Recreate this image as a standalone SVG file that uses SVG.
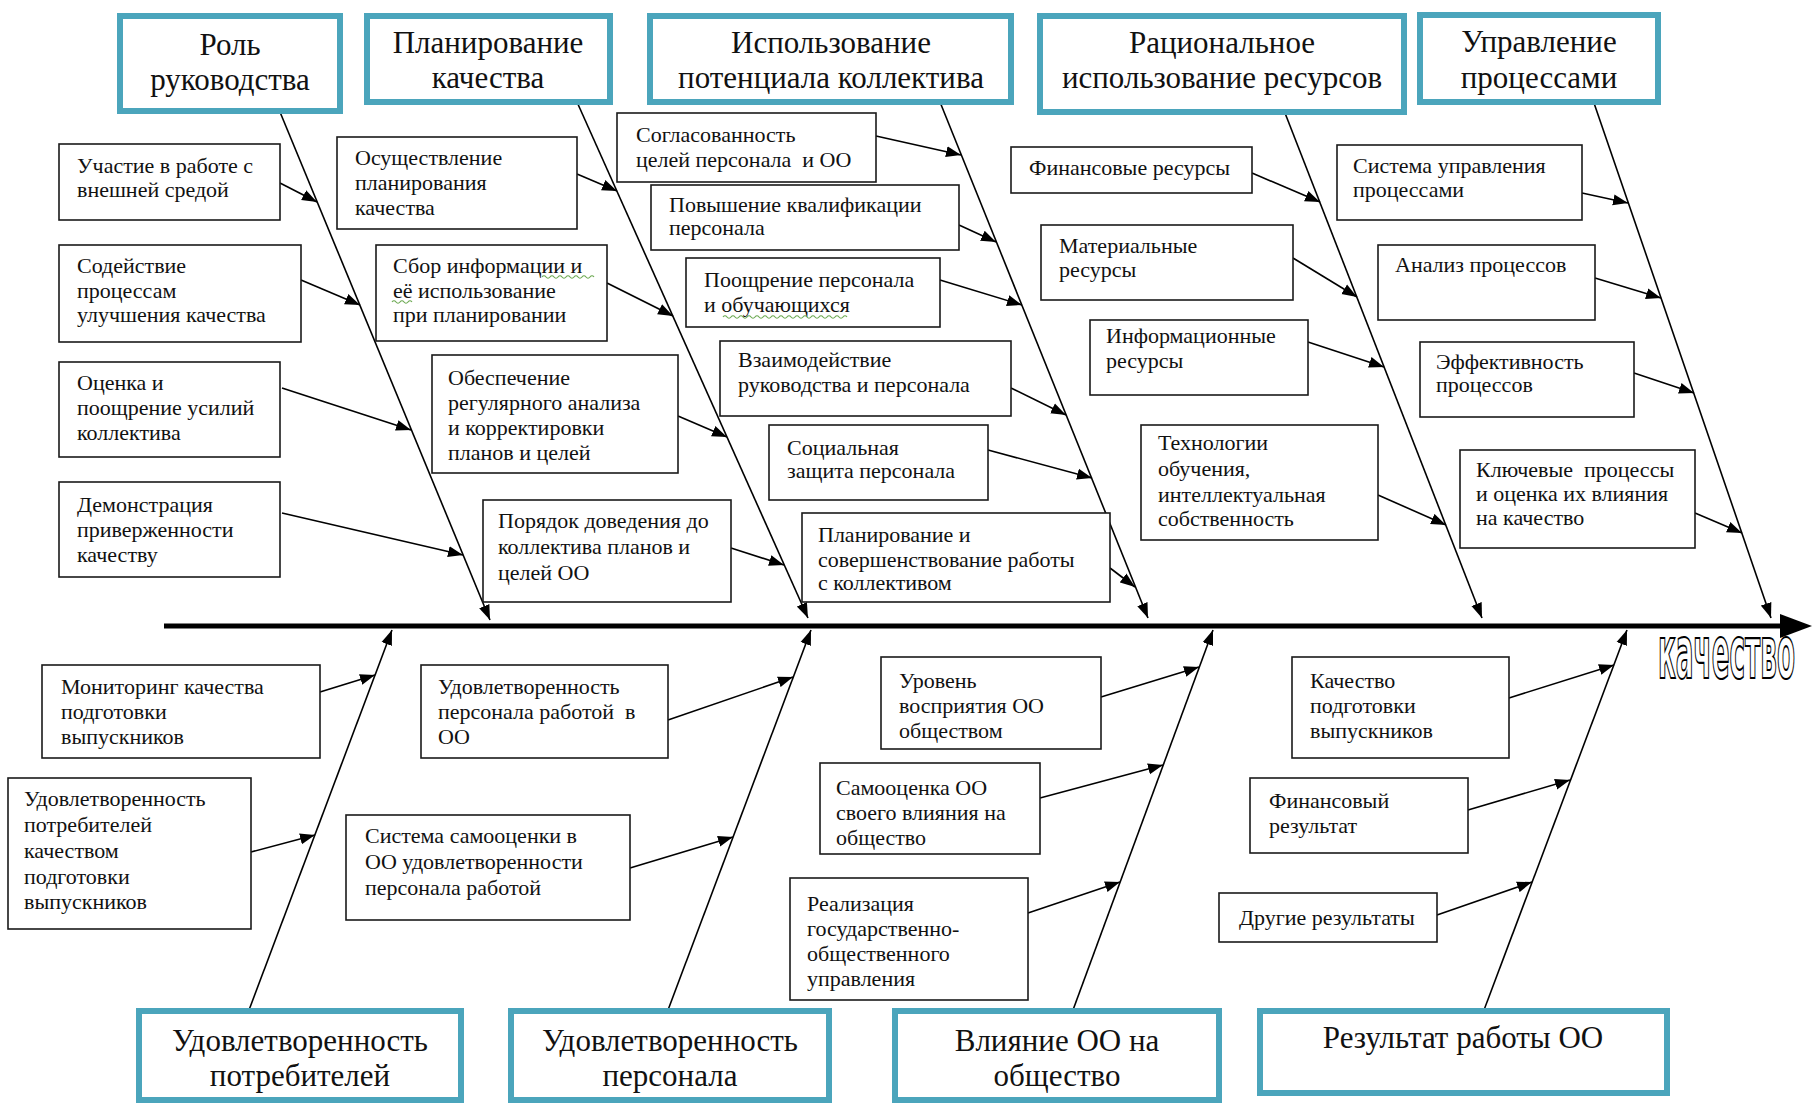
<svg xmlns="http://www.w3.org/2000/svg" width="1814" height="1104" viewBox="0 0 1814 1104">
<defs>
<marker id="ah" markerUnits="userSpaceOnUse" markerWidth="16" markerHeight="12" refX="15" refY="6" orient="auto">
<path d="M0,0.5 L15,6 L0,11.5 z" fill="#000"/>
</marker>
<style>
.hb{fill:#fff;stroke:#4ba5bc;stroke-width:6}
.sb{fill:#fff;stroke:#1a1a1a;stroke-width:1.6}
.ht{font-family:"Liberation Serif","Times New Roman",serif;font-size:31px;text-anchor:middle;fill:#111}
.st{font-family:"Liberation Serif","Times New Roman",serif;font-size:22px;fill:#111}
.ln{stroke:#000;stroke-width:1.6;fill:none;marker-end:url(#ah)}
.sq{stroke:#6aa84f;stroke-width:1.2;fill:none}
</style>
</defs>
<rect width="1814" height="1104" fill="#fff"/>

<g id="connectors">
<line x1="164" y1="626" x2="1785" y2="626" stroke="#000" stroke-width="5"/>
<polygon points="1812,626 1780,614 1780,638" fill="#000"/>
<path class="ln" d="M280,112 L490,620"/>
<path class="ln" d="M577,102 L808,618"/>
<path class="ln" d="M940,102 L1148,618"/>
<path class="ln" d="M1285,113 L1482,618"/>
<path class="ln" d="M1594,103 L1771,618"/>
<path class="ln" d="M249,1010 L392,630"/>
<path class="ln" d="M668,1010 L811,630"/>
<path class="ln" d="M1073,1010 L1213,630"/>
<path class="ln" d="M1484,1010 L1627,630"/>
<path class="ln" d="M280,183 L317,202"/>
<path class="ln" d="M301,280 L360,305"/>
<path class="ln" d="M282,388 L411,430"/>
<path class="ln" d="M282,513 L463,555"/>
<path class="ln" d="M577,174 L617,191"/>
<path class="ln" d="M607,283 L673,316"/>
<path class="ln" d="M678,416 L727,437"/>
<path class="ln" d="M731,548 L784,565"/>
<path class="ln" d="M876,136 L961,155"/>
<path class="ln" d="M959,225 L996,242"/>
<path class="ln" d="M940,280 L1022,305"/>
<path class="ln" d="M1011,388 L1066,415"/>
<path class="ln" d="M988,450 L1092,478"/>
<path class="ln" d="M1110,568 L1135,587"/>
<path class="ln" d="M1252,173 L1320,202"/>
<path class="ln" d="M1293,258 L1357,297"/>
<path class="ln" d="M1308,342 L1384,367"/>
<path class="ln" d="M1378,495 L1446,525"/>
<path class="ln" d="M1582,193 L1628,203"/>
<path class="ln" d="M1595,278 L1661,298"/>
<path class="ln" d="M1634,373 L1694,393"/>
<path class="ln" d="M1695,513 L1742,533"/>
<path class="ln" d="M320,692 L375,675"/>
<path class="ln" d="M251,852 L315,835"/>
<path class="ln" d="M668,720 L793,677"/>
<path class="ln" d="M630,868 L733,837"/>
<path class="ln" d="M1101,697 L1199,667"/>
<path class="ln" d="M1040,798 L1163,765"/>
<path class="ln" d="M1028,913 L1120,882"/>
<path class="ln" d="M1509,698 L1614,665"/>
<path class="ln" d="M1468,810 L1570,780"/>
<path class="ln" d="M1437,915 L1532,882"/>
</g>

<g id="h-rol"><rect class="hb" x="120" y="16" width="220" height="95"/><text class="ht" x="230" y="55">Роль</text><text class="ht" x="230" y="90">руководства</text></g>
<g id="h-plan"><rect class="hb" x="367" y="16" width="243" height="86"/><text class="ht" x="488" y="53">Планирование</text><text class="ht" x="488" y="88">качества</text></g>
<g id="h-isp"><rect class="hb" x="650" y="16" width="361" height="86"/><text class="ht" x="831" y="53">Использование</text><text class="ht" x="831" y="88">потенциала коллектива</text></g>
<g id="h-rac"><rect class="hb" x="1040" y="16" width="364" height="96"/><text class="ht" x="1222" y="53">Рациональное</text><text class="ht" x="1222" y="88">использование ресурсов</text></g>
<g id="h-upr"><rect class="hb" x="1420" y="15" width="238" height="87"/><text class="ht" x="1539" y="52">Управление</text><text class="ht" x="1539" y="88">процессами</text></g>
<g id="h-potr"><rect class="hb" x="139" y="1011" width="322" height="89"/><text class="ht" x="300" y="1051">Удовлетворенность</text><text class="ht" x="300" y="1086">потребителей</text></g>
<g id="h-pers"><rect class="hb" x="511" y="1011" width="318" height="89"/><text class="ht" x="670" y="1051">Удовлетворенность</text><text class="ht" x="670" y="1086">персонала</text></g>
<g id="h-vliy"><rect class="hb" x="895" y="1011" width="324" height="89"/><text class="ht" x="1057" y="1051">Влияние ОО на</text><text class="ht" x="1057" y="1086">общество</text></g>
<g id="h-rez"><rect class="hb" x="1260" y="1011" width="407" height="82"/><text class="ht" x="1463" y="1048">Результат работы ОО</text></g>

<g id="a1"><rect class="sb" x="59" y="144" width="221" height="76"/><text class="st" x="77" y="173">Участие в работе с</text><text class="st" x="77" y="197">внешней средой</text></g>
<g id="a2"><rect class="sb" x="59" y="245" width="242" height="97"/><text class="st" x="77" y="273">Содействие</text><text class="st" x="77" y="298">процессам</text><text class="st" x="77" y="322">улучшения качества</text></g>
<g id="a3"><rect class="sb" x="59" y="362" width="221" height="95"/><text class="st" x="77" y="390">Оценка и</text><text class="st" x="77" y="415">поощрение усилий</text><text class="st" x="77" y="440">коллектива</text></g>
<g id="a4"><rect class="sb" x="59" y="482" width="221" height="95"/><text class="st" x="77" y="512">Демонстрация</text><text class="st" x="77" y="537">приверженности</text><text class="st" x="77" y="562">качеству</text></g>

<g id="b1"><rect class="sb" x="337" y="137" width="240" height="92"/><text class="st" x="355" y="165">Осуществление</text><text class="st" x="355" y="190">планирования</text><text class="st" x="355" y="215">качества</text></g>
<g id="b2"><rect class="sb" x="376" y="245" width="231" height="96"/><text class="st" x="393" y="273">Сбор информации и</text><text class="st" x="393" y="298">её использование</text><text class="st" x="393" y="322">при планировании</text>
<path class="sq" d="M542,277 q2,-2.5 4,0 t4,0 t4,0 t4,0 t4,0 t4,0 t4,0 t4,0 t4,0 t4,0 t4,0 t4,0 t4,0"/>
<path class="sq" d="M392,302 q2,-2.5 4,0 t4,0 t4,0 t4,0 t4,0"/></g>
<g id="b3"><rect class="sb" x="432" y="355" width="246" height="118"/><text class="st" x="448" y="385">Обеспечение</text><text class="st" x="448" y="410">регулярного  анализа</text><text class="st" x="448" y="435">и корректировки</text><text class="st" x="448" y="460">планов и целей</text></g>
<g id="b4"><rect class="sb" x="483" y="500" width="248" height="102"/><text class="st" x="498" y="528">Порядок доведения до</text><text class="st" x="498" y="554">коллектива планов и</text><text class="st" x="498" y="580">целей ОО</text></g>

<g id="c1"><rect class="sb" x="617" y="113" width="259" height="69"/><text class="st" x="636" y="142">Согласованность</text><text class="st" x="636" y="167" xml:space="preserve">целей персонала  и ОО</text></g>
<g id="c2"><rect class="sb" x="651" y="185" width="308" height="65"/><text class="st" x="669" y="212">Повышение квалификации</text><text class="st" x="669" y="235">персонала</text></g>
<g id="c3"><rect class="sb" x="686" y="258" width="254" height="69"/><text class="st" x="704" y="287">Поощрение персонала</text><text class="st" x="704" y="312">и обучающихся</text>
<path class="sq" d="M723,317 q2,-2.5 4,0 t4,0 t4,0 t4,0 t4,0 t4,0 t4,0 t4,0 t4,0 t4,0 t4,0 t4,0 t4,0 t4,0 t4,0 t4,0 t4,0 t4,0 t4,0 t4,0 t4,0 t4,0 t4,0 t4,0 t4,0 t4,0 t4,0 t4,0 t4,0 t4,0 t4,0"/></g>
<g id="c4"><rect class="sb" x="720" y="341" width="291" height="75"/><text class="st" x="738" y="367">Взаимодействие</text><text class="st" x="738" y="392">руководства и персонала</text></g>
<g id="c5"><rect class="sb" x="769" y="425" width="219" height="75"/><text class="st" x="787" y="455">Социальная</text><text class="st" x="787" y="478">защита персонала</text></g>
<g id="c6"><rect class="sb" x="802" y="513" width="308" height="89"/><text class="st" x="818" y="542">Планирование и</text><text class="st" x="818" y="567">совершенствование работы</text><text class="st" x="818" y="590">с коллективом</text></g>

<g id="d1"><rect class="sb" x="1011" y="147" width="241" height="46"/><text class="st" x="1029" y="175">Финансовые ресурсы</text></g>
<g id="d2"><rect class="sb" x="1041" y="225" width="252" height="75"/><text class="st" x="1059" y="253">Материальные</text><text class="st" x="1059" y="277">ресурсы</text></g>
<g id="d3"><rect class="sb" x="1090" y="320" width="218" height="75"/><text class="st" x="1106" y="343">Информационные</text><text class="st" x="1106" y="368">ресурсы</text></g>
<g id="d4"><rect class="sb" x="1141" y="425" width="237" height="115"/><text class="st" x="1158" y="450">Технологии</text><text class="st" x="1158" y="476">обучения,</text><text class="st" x="1158" y="502">интеллектуальная</text><text class="st" x="1158" y="526">собственность</text></g>

<g id="e1"><rect class="sb" x="1337" y="145" width="245" height="75"/><text class="st" x="1353" y="173">Система управления</text><text class="st" x="1353" y="197">процессами</text></g>
<g id="e2"><rect class="sb" x="1378" y="245" width="217" height="75"/><text class="st" x="1395" y="272">Анализ процессов</text></g>
<g id="e3"><rect class="sb" x="1420" y="342" width="214" height="75"/><text class="st" x="1436" y="369">Эффективность</text><text class="st" x="1436" y="392">процессов</text></g>
<g id="e4"><rect class="sb" x="1460" y="450" width="235" height="98"/><text class="st" x="1476" y="477" xml:space="preserve">Ключевые  процессы</text><text class="st" x="1476" y="501">и оценка их влияния</text><text class="st" x="1476" y="525">на качество</text></g>

<g id="f1"><rect class="sb" x="42" y="665" width="278" height="93"/><text class="st" x="61" y="694">Мониторинг качества</text><text class="st" x="61" y="719">подготовки</text><text class="st" x="61" y="744">выпускников</text></g>
<g id="f2"><rect class="sb" x="8" y="778" width="243" height="151"/><text class="st" x="24" y="806">Удовлетворенность</text><text class="st" x="24" y="832">потребителей</text><text class="st" x="24" y="858">качеством</text><text class="st" x="24" y="884">подготовки</text><text class="st" x="24" y="909">выпускников</text></g>
<g id="g1"><rect class="sb" x="421" y="665" width="247" height="93"/><text class="st" x="438" y="694">Удовлетворенность</text><text class="st" x="438" y="719" xml:space="preserve">персонала работой  в</text><text class="st" x="438" y="744">ОО</text></g>
<g id="g2"><rect class="sb" x="346" y="815" width="284" height="105"/><text class="st" x="365" y="843">Система самооценки в</text><text class="st" x="365" y="869">ОО удовлетворенности</text><text class="st" x="365" y="895">персонала работой</text></g>
<g id="h1"><rect class="sb" x="881" y="657" width="220" height="92"/><text class="st" x="899" y="688">Уровень</text><text class="st" x="899" y="713">восприятия ОО</text><text class="st" x="899" y="738">обществом</text></g>
<g id="h2"><rect class="sb" x="820" y="763" width="220" height="91"/><text class="st" x="836" y="795">Самооценка ОО</text><text class="st" x="836" y="820">своего влияния на</text><text class="st" x="836" y="845">общество</text></g>
<g id="h3"><rect class="sb" x="790" y="878" width="238" height="122"/><text class="st" x="807" y="911">Реализация</text><text class="st" x="807" y="936">государственно-</text><text class="st" x="807" y="961">общественного</text><text class="st" x="807" y="986">управления</text></g>
<g id="i1"><rect class="sb" x="1292" y="657" width="217" height="101"/><text class="st" x="1310" y="688">Качество</text><text class="st" x="1310" y="713">подготовки</text><text class="st" x="1310" y="738">выпускников</text></g>
<g id="i2"><rect class="sb" x="1250" y="778" width="218" height="75"/><text class="st" x="1269" y="808">Финансовый</text><text class="st" x="1269" y="833">результат</text></g>
<g id="i3"><rect class="sb" x="1219" y="893" width="218" height="49"/><text class="st" x="1239" y="925">Другие результаты</text></g>

<g id="effect"><text transform="translate(1658,678) scale(1,2.3)" x="0" y="0" font-family="'DejaVu Sans Condensed','DejaVu Sans',sans-serif" font-weight="bold" font-size="32" textLength="137" lengthAdjust="spacingAndGlyphs" fill="#fff" stroke="#000" stroke-width="1.6" vector-effect="non-scaling-stroke">качество</text></g>
</svg>
